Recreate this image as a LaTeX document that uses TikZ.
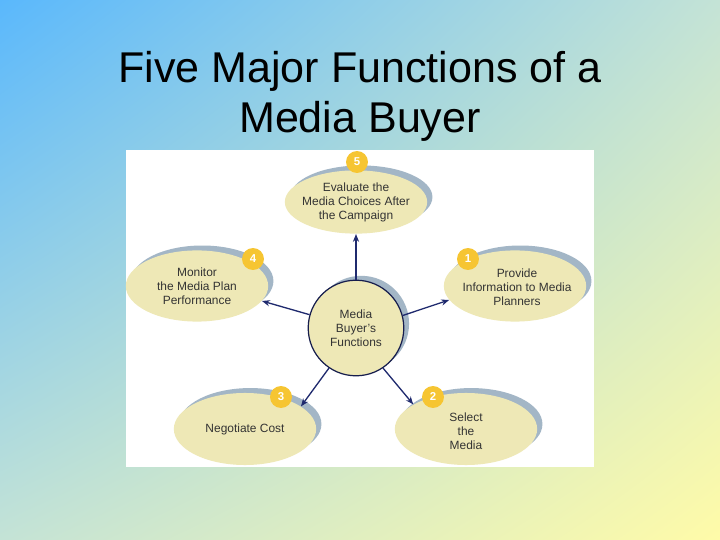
\documentclass[tikz,border=0pt]{standalone}
\usepackage{fontspec}
\setmainfont{Liberation Sans}
\usetikzlibrary{shapes.geometric,shadows,shadings,arrows.meta}
\definecolor{bgblue}{HTML}{5AB8FC}
\definecolor{bgmid}{HTML}{C4E3D6}
\definecolor{bgyellow}{HTML}{FFFBA8}
\definecolor{bubfill}{HTML}{EEE8B6}
\definecolor{bubshade}{HTML}{A3B6C6}
\definecolor{badgegold}{HTML}{F6C532}
\definecolor{arrownavy}{HTML}{1F2A6E}
\definecolor{textgray}{HTML}{333333}
\tikzset{
  bubble/.style={shape=ellipse, fill=bubfill, minimum width=81pt, inner sep=0pt,
    drop shadow={shadow xshift=3pt, shadow yshift=2.8pt, fill=bubshade, opacity=1}},
  hub/.style={shape=circle, fill=bubfill, draw=arrownavy!70!black, line width=0.7pt,
    minimum size=54.4pt, inner sep=0pt,
    drop shadow={shadow xshift=3pt, shadow yshift=2.5pt, fill=bubshade, opacity=1}},
  bubtext/.style={align=center, text=textgray, font=\fontsize{6.8}{8}\selectfont},
  badge/.style={shape=circle, fill=badgegold, minimum size=12.5pt, inner sep=0pt,
    text=white, font=\fontsize{6.5}{7}\selectfont\bfseries},
  conn/.style={-{Stealth[length=4.5pt,width=3.5pt]}, line width=0.75pt, draw=arrownavy},
  headline/.style={anchor=base, font=\fontsize{24.5}{28}\selectfont}
}
\begin{document}
\begin{tikzpicture}[x=0.02cm, y=-0.02cm]
% background and panel
\shade[upper left=bgblue, upper right=bgmid, lower left=bgmid, lower right=bgyellow] (0,0) rectangle (720,540);
\fill[white] (126,150) rectangle (594,467);
\node[headline] (title1) at (360,83) {Five Major Functions of a};
\node[headline] (title2) at (360,133) {Media Buyer};
% bubbles
\node[bubble, minimum height=36pt] (e5) at (356,202) {};
\node[bubble, minimum height=40.5pt] (e4) at (197,286) {};
\node[bubble, minimum height=40.5pt] (e1) at (515,286) {};
\node[bubble, minimum height=41pt] (e3) at (245,429) {};
\node[bubble, minimum height=41pt] (e2) at (466,429) {};
\node[hub] (c) at (356,328) {};
% numbers
\node[badge] (b5) at (357,162) {5};
\node[badge] (b4) at (253,259) {4};
\node[badge] (b1) at (468,259) {1};
\node[badge] (b3) at (281,397) {3};
\node[badge] (b2) at (433,397) {2};
% texts
\node[bubtext] (t5) at (e5) {Evaluate the\\Media Choices After\\the Campaign};
\node[bubtext] (t4) at (e4) {Monitor\\the Media Plan\\Performance};
\node[bubtext] (t1) at (517,287) {Provide\\Information to Media\\Planners};
\node[bubtext] (t3) at (e3) {Negotiate Cost};
\node[bubtext] (t2) at (466,431) {Select\\the\\Media};
\node[bubtext] (tc) at (c) {Media\\Buyer's\\Functions};
% arrows
\draw [conn] (c.90) -- (e5.270);
\draw [conn] (c.15) -- (e1.192);
\draw [conn] (c.304) -- (e2.155);
\draw [conn] (c.236) -- (e3.22);
\draw [conn] (c.164) -- (e4.347);
\end{tikzpicture}
\end{document}
